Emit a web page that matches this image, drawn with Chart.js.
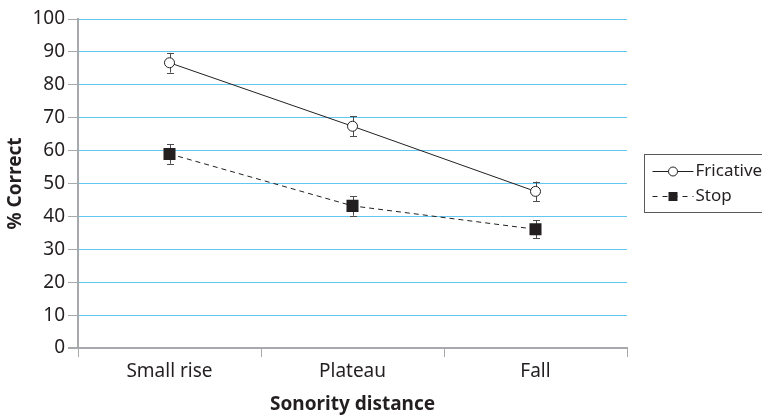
<!DOCTYPE html>
<html>
<head>
<meta charset="utf-8">
<script src="https://cdn.jsdelivr.net/npm/chart.js@4/dist/chart.umd.min.js"></script>
<style>
  html, body { margin: 0; padding: 0; background: #fff; }
  #wrap { width: 762px; height: 416px; }
</style>
</head>
<body>
<div id="wrap"><canvas id="sonorityChart"></canvas></div>
<script>
// data
const categories = ["Small rise", "Plateau", "Fall"];
const fricative = [86.7, 67.4, 47.6];
const fricativeErr = [3.0, 3.0, 3.0];
const stop = [59.0, 43.2, 36.1];
const stopErr = [3.0, 3.0, 2.8];
const yTicks = [0, 10, 20, 30, 40, 50, 60, 70, 80, 90, 100];

const FONT = "'Noto Sans', 'Open Sans', sans-serif";
const INK = "#231f20";
const GRID_BLUE = "#62c6ee";
const AXIS_GREY = "#a7a9ac";

// error bars, drawn under the markers
const errorBars = {
  id: "errorBars",
  beforeDatasetsDraw(chart) {
    const ctx = chart.ctx;
    const y = chart.scales.y;
    ctx.save();
    ctx.strokeStyle = "#4d4d4f";
    ctx.lineWidth = 1;
    chart.data.datasets.forEach((ds, i) => {
      const meta = chart.getDatasetMeta(i);
      meta.data.forEach((pt, j) => {
        const v = ds.data[j], e = ds.errors[j];
        const x = Math.round(pt.x) + 0.5;
        const top = y.getPixelForValue(v + e);
        const bot = y.getPixelForValue(v - e);
        ctx.beginPath();
        ctx.moveTo(x, top); ctx.lineTo(x, bot);
        ctx.moveTo(x - 3.5, Math.round(top) + 0.5); ctx.lineTo(x + 3.5, Math.round(top) + 0.5);
        ctx.moveTo(x - 3.5, Math.round(bot) + 0.5); ctx.lineTo(x + 3.5, Math.round(bot) + 0.5);
        ctx.stroke();
      });
    });
    ctx.restore();
  }
};

// boxed legend with line + marker samples (runs past the right edge like the original)
const boxLegend = {
  id: "boxLegend",
  afterDraw(chart) {
    const ctx = chart.ctx;
    const area = chart.chartArea;
    const left = area.right + 17.5;
    const top = 154.5, h = 58;
    ctx.save();
    ctx.strokeStyle = "#58595b";
    ctx.lineWidth = 1;
    ctx.strokeRect(left, top, 130, h);
    ctx.font = "17px " + FONT;
    ctx.textBaseline = "middle";
    chart.data.datasets.forEach((ds, i) => {
      const cy = Math.round(top + 16 + i * 25) + 0.5;
      const x0 = left + 8, x1 = left + 49, mx = (x0 + x1) / 2;
      ctx.strokeStyle = INK;
      ctx.setLineDash(ds.borderDash ? [5, 5] : []);
      ctx.beginPath();
      ctx.moveTo(x0, cy); ctx.lineTo(x1, cy);
      ctx.stroke();
      ctx.setLineDash([]);
      if (ds.pointStyle === "rect") {
        ctx.fillStyle = INK;
        ctx.fillRect(mx - 4.5, cy - 4.5, 9, 9);
      } else {
        ctx.fillStyle = "#fff";
        ctx.beginPath();
        ctx.arc(mx, cy, 4.5, 0, Math.PI * 2);
        ctx.fill();
        ctx.stroke();
      }
      ctx.fillStyle = INK;
      ctx.fillText(ds.label, x1 + 2, cy);
    });
    ctx.restore();
  }
};

new Chart(document.getElementById("sonorityChart"), {
  type: "line",
  data: {
    labels: categories,
    datasets: [
      {
        label: "Fricative",
        data: fricative,
        errors: fricativeErr,
        borderColor: INK,
        borderWidth: 1,
        pointStyle: "circle",
        pointRadius: 5,
        pointBackgroundColor: "#fff",
        pointBorderColor: INK,
        pointBorderWidth: 1,
        tension: 0
      },
      {
        label: "Stop",
        data: stop,
        errors: stopErr,
        borderColor: INK,
        borderWidth: 1,
        borderDash: [5, 4],
        pointStyle: "rect",
        pointRadius: 8.5,
        pointBackgroundColor: INK,
        pointBorderColor: INK,
        pointBorderWidth: 0,
        tension: 0
      }
    ]
  },
  options: {
    responsive: true,
    maintainAspectRatio: false,
    animation: false,
    layout: { padding: { left: 0, top: 19, right: 135, bottom: 0 } },
    plugins: {
      legend: { display: false },
      tooltip: { enabled: false }
    },
    scales: {
      x: {
        offset: true,
        afterFit(scale) { scale.height = 68; },
        grid: {
          offset: true,
          drawOnChartArea: false,
          drawTicks: true,
          tickLength: 9,
          tickColor: AXIS_GREY
        },
        border: { color: AXIS_GREY, width: 2 },
        ticks: { color: INK, font: { family: FONT, size: 19 }, padding: 3 },
        title: {
          display: true,
          text: "Sonority distance",
          color: INK,
          font: { family: FONT, size: 19, weight: "bold" },
          padding: { top: 4, bottom: 0 }
        }
      },
      y: {
        min: 0,
        max: 100,
        afterFit(scale) { scale.width = 78; },
        afterBuildTicks(scale) { scale.ticks = yTicks.map(v => ({ value: v })); },
        grid: {
          color: ctx => ctx.tick && ctx.tick.value === 0 ? AXIS_GREY : GRID_BLUE,
          lineWidth: ctx => ctx.tick && ctx.tick.value === 0 ? 2 : 1,
          tickColor: AXIS_GREY,
          tickLength: 10
        },
        border: { color: AXIS_GREY, width: 2 },
        ticks: { color: INK, font: { family: FONT, size: 19 }, padding: 3 },
        title: {
          display: true,
          text: "% Correct",
          color: INK,
          font: { family: FONT, size: 19, weight: "bold" },
          padding: { top: 4, bottom: 0 }
        }
      }
    }
  },
  plugins: [errorBars, boxLegend]
});
</script>
</body>
</html>
